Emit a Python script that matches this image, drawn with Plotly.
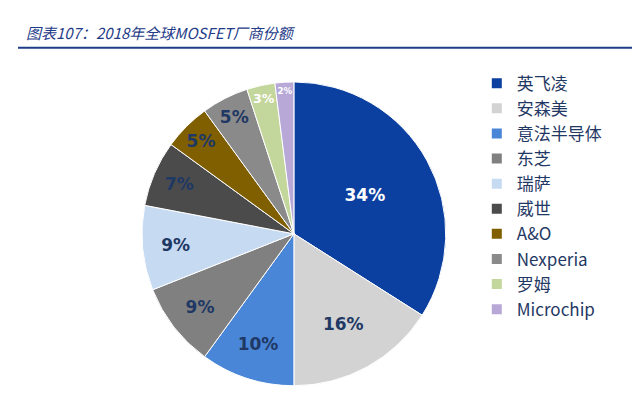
import plotly.graph_objects as go # visualization

# vendor shares
vendors = ['英飞凌', '安森美', '意法半导体', '东芝', '瑞萨', '威世', 'A&O', 'Nexperia', '罗姆', 'Microchip']
shares = [34, 16, 10, 9, 9, 7, 5, 5, 3, 2]
colors = ['#0b3fa0', '#d3d3d3', '#4a86d8', '#808080', '#c6daf2',
          '#4b4b4b', '#7f5f00', '#8a8a8a', '#c3d69b', '#b7a8d8']
text_colors = ['white', '#1f3864', '#1f3864', '#1f3864', '#1f3864',
               '#1f3864', '#1f3864', '#1f3864', 'white', 'white']

fig = go.Figure(go.Pie(
    labels=vendors,
    values=shares,
    sort=False,
    direction='clockwise',
    rotation=0,
    marker=dict(colors=colors, line=dict(color='white', width=1)),
    texttemplate='<b>%{value}%</b>',
    textposition='inside',
    insidetextorientation='horizontal',
    textfont=dict(size=17, color=text_colors, family='DejaVu Sans'),
    domain=dict(x=[0.2, 0.69], y=[0.03, 0.88]),
))

# title and rule under it
fig.add_annotation(text='<i>图表107：2018年全球MOSFET厂商份额</i>', x=0.01, y=0.995,
                   xref='paper', yref='paper', xanchor='left', yanchor='top', showarrow=False,
                   font=dict(size=15, color='#1f3c88', family='Noto Sans CJK SC'))
fig.add_shape(type='line', x0=0, x1=1, y0=0.925, y1=0.925, xref='paper', yref='paper',
              line=dict(color='#1f3c88', width=2))

fig.update_layout(
    width=640, height=416,
    margin=dict(l=10, r=10, t=10, b=10),
    paper_bgcolor='white',
    showlegend=True,
    legend=dict(x=0.74, y=0.55, yanchor='middle', traceorder='normal',
                font=dict(size=17, color='#1f3864', family='Noto Sans CJK SC'),
                itemsizing='constant', tracegroupgap=0),
)
fig.write_html('out.html')
